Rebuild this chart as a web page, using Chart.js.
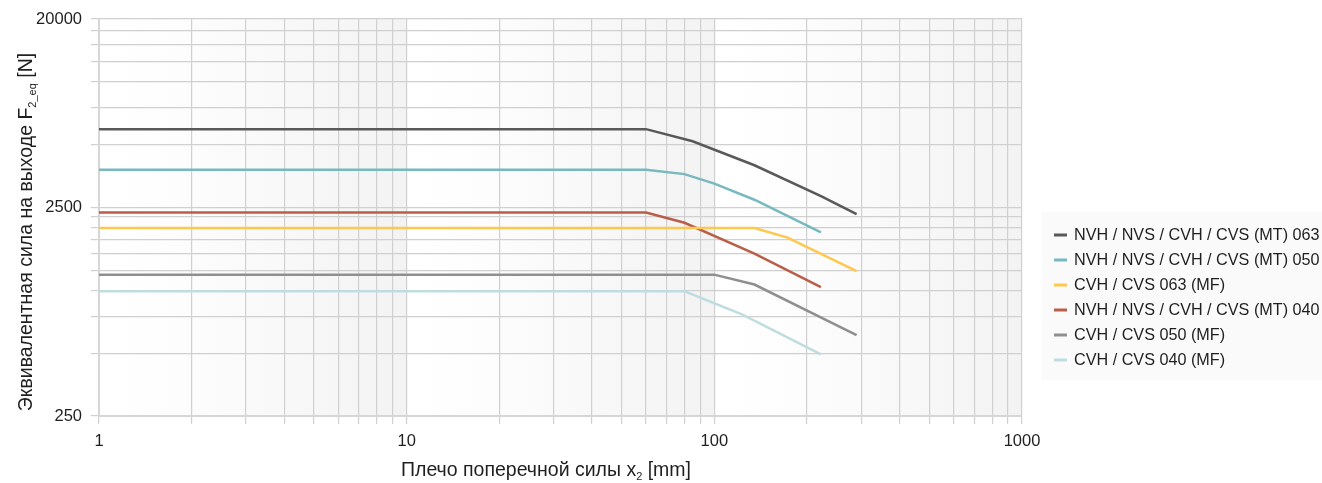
<!DOCTYPE html>
<html>
<head>
<meta charset="utf-8">
<script src="https://cdn.jsdelivr.net/npm/chart.js@4.4.1/dist/chart.umd.min.js"></script>
<style>
  html, body { margin: 0; padding: 0; background: #fff; }
  canvas { display: block; }
</style>
</head>
<body>
<canvas id="chart" width="1322" height="483"></canvas>
<script>
// lever arm x2 [mm] and equivalent output force F2_eq [N]
const seriesNames = [
  "NVH / NVS / CVH / CVS (MT) 063",
  "NVH / NVS / CVH / CVS (MT) 050",
  "CVH / CVS 063 (MF)",
  "NVH / NVS / CVH / CVS (MT) 040",
  "CVH / CVS 050 (MF)",
  "CVH / CVS 040 (MF)"
];
const seriesColors = ["#595959", "#77b9bf", "#fec84c", "#b95f48", "#8f8f8f", "#bfdde0"];

const x063MT = [1, 60, 85, 135, 223, 290];
const f063MT = [5930, 5930, 5190, 3980, 2820, 2320];
const x050MT = [1, 60, 80, 100, 135, 222];
const f050MT = [3790, 3790, 3610, 3250, 2720, 1900];
const x063MF = [1, 135, 173, 290];
const f063MF = [1990, 1990, 1790, 1236];
const x040MT = [1, 60, 80, 135, 222];
const f040MT = [2360, 2360, 2110, 1500, 1038];
const x050MF = [1, 100, 135, 290];
const f050MF = [1190, 1190, 1067, 611];
const x040MF = [1, 80, 123, 222];
const f040MF = [991, 991, 767, 494];

const xTicks = [1,2,3,4,5,6,7,8,9,10,20,30,40,50,60,70,80,90,100,200,300,400,500,600,700,800,900,1000];
const xTickLabels = [1, 10, 100, 1000];
const yTicks = [250,500,750,1000,1250,1500,1750,2000,2250,2500,5000,7500,10000,12500,15000,17500,20000];
const yTickLabels = [250, 2500, 20000];

const xs = [x063MT, x050MT, x063MF, x040MT, x050MF, x040MF];
const fs = [f063MT, f050MT, f063MF, f040MT, f050MF, f040MF];

const FONT = "'Liberation Sans', Arial, Helvetica, sans-serif";
const TEXT = "#1f1f1f";
const GRID = "#d0d0d0";

const datasets = seriesNames.map(function (name, i) {
  return {
    label: name,
    data: xs[i].map(function (x, j) { return { x: x, y: fs[i][j] }; }),
    borderColor: seriesColors[i],
    backgroundColor: seriesColors[i],
    borderWidth: 2.5,
    pointRadius: 0,
    tension: 0,
    fill: false
  };
});

// light gradient shading across each decade
const bandsPlugin = {
  id: "bands",
  beforeDraw: function (chart) {
    const ctx = chart.ctx, a = chart.chartArea, sx = chart.scales.x;
    ctx.save();
    ctx.fillStyle = "#ffffff";
    ctx.fillRect(0, 0, chart.width, chart.height);
    [1, 10, 100].forEach(function (d) {
      const x0 = sx.getPixelForValue(d), x1 = sx.getPixelForValue(d * 10);
      const g = ctx.createLinearGradient(x0, 0, x1, 0);
      g.addColorStop(0, "#ffffff");
      g.addColorStop(0.25, "#fdfdfd");
      g.addColorStop(1, "#f3f3f3");
      ctx.fillStyle = g;
      ctx.fillRect(x0, a.top, x1 - x0, a.bottom - a.top);
    });
    ctx.restore();
  }
};

function drawRich(ctx, parts, x, y, align) {
  // parts: [text, size, dy]
  let total = 0;
  parts.forEach(function (p) { ctx.font = p[1] + "px " + FONT; total += ctx.measureText(p[0]).width; });
  let cx = align === "center" ? x - total / 2 : x;
  parts.forEach(function (p) {
    ctx.font = p[1] + "px " + FONT;
    ctx.fillText(p[0], cx, y + p[2]);
    cx += ctx.measureText(p[0]).width;
  });
}

const titlesPlugin = {
  id: "titles",
  afterDraw: function (chart) {
    const ctx = chart.ctx;
    ctx.save();
    ctx.fillStyle = TEXT;
    ctx.textBaseline = "alphabetic";
    ctx.textAlign = "left";
    drawRich(ctx, [["Плечо поперечной силы x", 19.5, 0], ["2", 11, 4], [" [mm]", 19.5, 0]], 546, 476, "center");
    ctx.translate(32, 232);
    ctx.rotate(-Math.PI / 2);
    drawRich(ctx, [["Эквивалентная сила на выходе F", 19.5, 0], ["2_eq", 11, 4], [" [N]", 19.5, 0]], 0, 0, "center");
    ctx.restore();
  }
};

const legendPlugin = {
  id: "sideLegend",
  afterDraw: function (chart) {
    const ctx = chart.ctx;
    ctx.save();
    ctx.fillStyle = "#fafafa";
    ctx.fillRect(1042, 212, 280, 168);
    ctx.font = "16.2px " + FONT;
    ctx.textBaseline = "middle";
    ctx.textAlign = "left";
    chart.data.datasets.forEach(function (ds, i) {
      const y = 235 + 25 * i;
      ctx.fillStyle = ds.borderColor;
      ctx.fillRect(1054, y - 1.5, 13, 3);
      ctx.fillStyle = TEXT;
      ctx.fillText(ds.label, 1074, y + 1);
    });
    ctx.restore();
  }
};

new Chart(document.getElementById("chart"), {
  type: "line",
  data: { datasets: datasets },
  options: {
    responsive: false,
    animation: false,
    devicePixelRatio: 1,
    layout: { padding: { top: 19, right: 300, left: 0, bottom: 0 } },
    plugins: { legend: { display: false }, tooltip: { enabled: false } },
    scales: {
      x: {
        type: "logarithmic",
        min: 1,
        max: 1000,
        afterBuildTicks: function (s) { s.ticks = xTicks.map(function (v) { return { value: v }; }); },
        afterFit: function (s) { s.height = 67; },
        ticks: {
          autoSkip: false,
          maxRotation: 0,
          padding: 8,
          color: TEXT,
          font: { family: FONT, size: 16.5 },
          callback: function (v) { return xTickLabels.indexOf(v) >= 0 ? String(v) : ""; }
        },
        grid: { color: GRID, lineWidth: 1.2, tickLength: 8 },
        border: { color: "#d6d6d6", width: 2 }
      },
      y: {
        type: "logarithmic",
        min: 250,
        max: 20000,
        afterBuildTicks: function (s) { s.ticks = yTicks.map(function (v) { return { value: v }; }); },
        afterFit: function (s) { s.width = 99; },
        ticks: {
          autoSkip: false,
          padding: 9,
          color: TEXT,
          font: { family: FONT, size: 16.5 },
          callback: function (v) { return yTickLabels.indexOf(v) >= 0 ? String(v) : ""; }
        },
        grid: { color: GRID, lineWidth: 1.2, tickLength: 8 },
        border: { color: "#d6d6d6", width: 2 }
      }
    }
  },
  plugins: [bandsPlugin, titlesPlugin, legendPlugin]
});
</script>
</body>
</html>
